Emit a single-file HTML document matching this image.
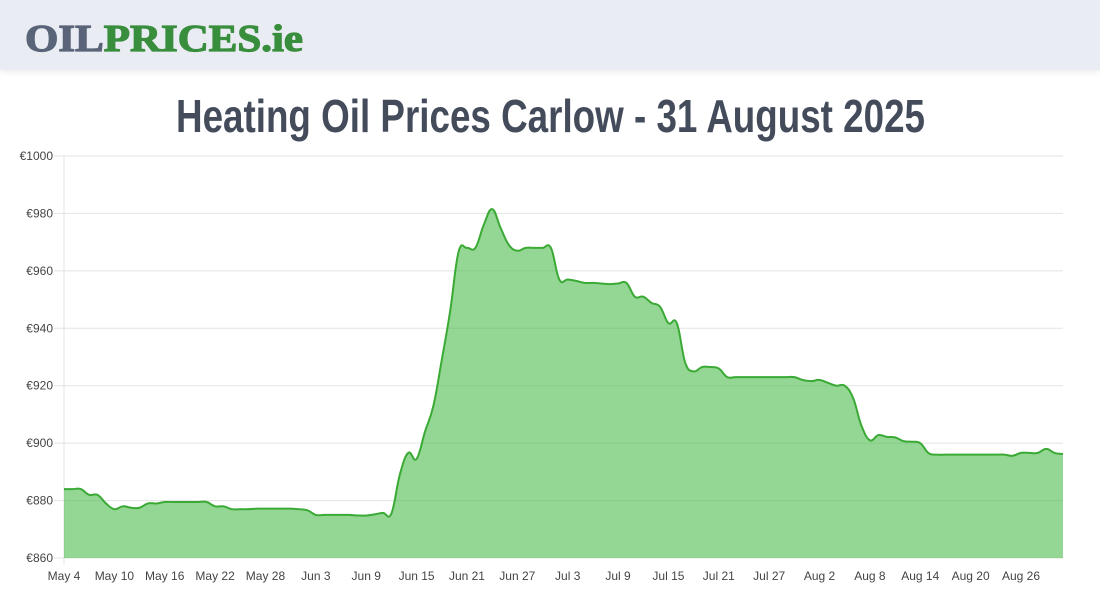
<!DOCTYPE html>
<html><head><meta charset="utf-8"><style>
html,body{margin:0;padding:0;background:#fff;}
body{width:1100px;height:600px;overflow:hidden;font-family:"Liberation Sans",sans-serif;}
#hdr{position:absolute;left:0;top:0;width:1100px;height:70px;background:#e9ecf3;box-shadow:0 2px 6px rgba(0,0,0,0.08);}
svg{position:absolute;left:0;top:0;}
</style></head><body>
<div id="hdr"></div>
<svg width="1100" height="600">
<text x="25" y="51" font-family="Liberation Serif,serif" font-weight="bold" font-size="38" textLength="278" lengthAdjust="spacingAndGlyphs" stroke-width="1.2"><tspan fill="#5a6478" stroke="#5a6478">OIL</tspan><tspan fill="#388e3c" stroke="#388e3c">PRICES.ie</tspan></text>
<text x="176" y="132" font-family="Liberation Sans Narrow,Liberation Sans,sans-serif" font-weight="bold" font-size="46" fill="#444c5c" textLength="749" lengthAdjust="spacingAndGlyphs">Heating Oil Prices Carlow - 31 August 2025</text>
<g id="chart"></g>
</svg>
<script>
const yTicks=[860,880,900,920,940,960,980,1000];
const xTickLabels=["May 4","May 10","May 16","May 22","May 28","Jun 3","Jun 9","Jun 15","Jun 21","Jun 27","Jul 3","Jul 9","Jul 15","Jul 21","Jul 27","Aug 2","Aug 8","Aug 14","Aug 20","Aug 26"];
const prices=[884,884,884,882,882,879,877,878,877.5,877.5,879,879,879.5,879.5,879.5,879.5,879.5,879.5,878,878,877,877,877,877.2,877.2,877.2,877.2,877.2,877,876.6,875,875,875,875,875,874.8,874.8,875.2,875.7,875.5,889,896.6,894.5,904,913,929,946,966.6,968,968,976,981.5,975,969,967,968,968,968,968,957,957,956.5,955.8,955.8,955.6,955.4,955.6,955.8,951,951,948.8,947.5,941.8,941.8,928,925,926.5,926.5,926,923,923,923,923,923,923,923,923,923,922,921.6,922,921,920,920,915.7,906,901,902.8,902.2,902,900.7,900.5,900,896.5,896,896,896,896,896,896,896,896,896,895.6,896.6,896.6,896.6,898,896.6,896.2];
const X0=64,X1=1063,Y0=558,Y1=156,nDays=119;
const xs=d=>X0+(X1-X0)*d/nDays;
const ys=v=>Y0-(Y0-Y1)*(v-860)/140;
const NS="http://www.w3.org/2000/svg";
const g=document.getElementById('chart');
function mk(t,a){const e=document.createElementNS(NS,t);for(const k in a)e.setAttribute(k,a[k]);g.appendChild(e);return e;}
yTicks.forEach(v=>{
  const l=mk('line',{x1:54,x2:X1,y1:ys(v),y2:ys(v),stroke:'#e3e3e3','stroke-width':1});
  
  
  const t=mk('text',{x:53,y:ys(v)+4,'text-anchor':'end','font-size':12,fill:'#444'});
  t.textContent='€'+v;
  
  
});
const ax=mk('line',{x1:X0,x2:X0,y1:Y1,y2:Y0+6,stroke:'#e3e3e3'});


xTickLabels.forEach((s,i)=>{
  const t=mk('text',{x:xs(i*6),y:580,'text-anchor':'middle','font-size':12,fill:'#444'});
  t.textContent=s;
  
  
});
const pts=prices.map((v,i)=>[xs(i),ys(v)]);
let d='M'+pts[0][0]+','+pts[0][1];
const k=0.2;
for(let i=0;i<pts.length-1;i++){
  const p0=pts[Math.max(i-1,0)],p1=pts[i],p2=pts[i+1],p3=pts[Math.min(i+2,pts.length-1)];
  const c1=[p1[0]+(p2[0]-p0[0])*k,p1[1]+(p2[1]-p0[1])*k];
  const c2=[p2[0]-(p3[0]-p1[0])*k,p2[1]-(p3[1]-p1[1])*k];
  d+=`C${c1[0]},${c1[1]} ${c2[0]},${c2[1]} ${p2[0]},${p2[1]}`;
}
const area=mk('path',{d:d+`L${X1},${Y0}L${X0},${Y0}Z`,fill:'rgba(76,187,76,0.6)'});


const line=mk('path',{d:d,fill:'none',stroke:'#3aaa35','stroke-width':2});


</script>
</body></html>
